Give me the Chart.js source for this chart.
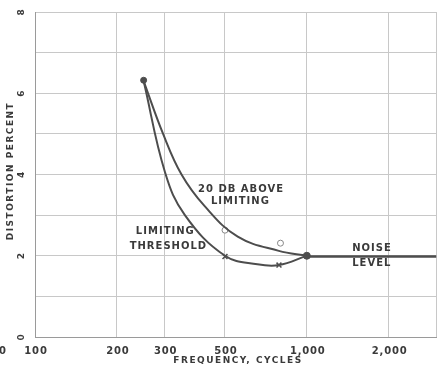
<!DOCTYPE html>
<html><head><meta charset="utf-8">
<script src="https://cdn.jsdelivr.net/npm/chart.js@4/dist/chart.umd.min.js"></script>
<style>html,body{margin:0;padding:0;background:#fff;}canvas{display:block;}</style>
</head><body>
<canvas id="c" width="442" height="368"></canvas>
<script>
// Tick labels
const xTickValues = [100, 200, 300, 500, 1000, 2000, 3000];
const xTickLabels = ['100', '200', '300', '500', '1,000', '2,000', ''];
const yTickValues = [0, 2, 4, 6, 8];

// Curve "LIMITING THRESHOLD" (frequency, distortion %)
const thresholdFreq = [251, 301, 356, 500, 658, 789, 1000];
const thresholdDist = [6.3, 4.05, 3.0, 2.0, 1.79, 1.77, 2.0];

// Curve "20 DB ABOVE LIMITING"
const aboveFreq = [251, 296, 346, 421, 557, 789, 1000];
const aboveDist = [6.3, 5.0, 4.0, 3.22, 2.47, 2.12, 2.0];

// Measured points
const startFreq = [251], startDist = [6.32];
const thresholdPtFreq = [500, 790], thresholdPtDist = [1.98, 1.77];
const abovePtFreq = [500, 800], abovePtDist = [2.63, 2.31];
const jointFreq = [1000], jointDist = [2.0];

// Noise level
const noiseFreq = [1000, 3000], noiseDist = [1.98, 1.98];

// Annotation texts: [text, frequency, distortion]
const annotations = [
  ['20 DB ABOVE', 398, 3.645],
  ['LIMITING', 444, 3.34],
  ['LIMITING', 235, 2.59],
  ['THRESHOLD', 223, 2.24],
  ['NOISE', 1469, 2.17],
  ['LEVEL', 1469, 1.80]
];

const zip = (xs, ys) => xs.map((x, i) => ({x, y: ys[i]}));
const INK = '#4d4d4d';
const FONT = '"DejaVu Sans", sans-serif';

const textPlugin = {
  id: 'texts',
  afterDraw(chart) {
    const ctx = chart.ctx, xs = chart.scales.x, ys = chart.scales.y;
    ctx.save();
    ctx.fillStyle = '#3a3a3a';
    ctx.font = 'bold 10px ' + FONT;
    ctx.textAlign = 'center'; ctx.textBaseline = 'middle';
    ctx.letterSpacing = '0.8px';
    // x tick labels
    xTickValues.forEach((v, i) => {
      if (xTickLabels[i]) ctx.fillText(xTickLabels[i], xs.getPixelForValue(v) + 1, 351);
    });
    ctx.fillText('0', 3, 351);
    // y tick labels rotated
    ctx.font = 'bold 9px ' + FONT;
    yTickValues.forEach(v => {
      ctx.save();
      ctx.translate(22, ys.getPixelForValue(v));
      ctx.rotate(-Math.PI / 2);
      ctx.fillText(String(v), 0, 0);
      ctx.restore();
    });
    // axis titles
    ctx.letterSpacing = '1.5px';
    ctx.fillText('FREQUENCY, CYCLES', 238, 361);
    ctx.save();
    ctx.translate(11, 171);
    ctx.rotate(-Math.PI / 2);
    ctx.fillText('DISTORTION PERCENT', 0, 0);
    ctx.restore();
    // annotations
    ctx.font = 'bold 10px ' + FONT;
    ctx.letterSpacing = '1px';
    ctx.textAlign = 'left';
    annotations.forEach(([t, f, d]) => ctx.fillText(t, xs.getPixelForValue(f), ys.getPixelForValue(d)));
    ctx.restore();
  }
};

new Chart(document.getElementById('c'), {
  type: 'scatter',
  data: {
    datasets: [
      { data: zip(noiseFreq, noiseDist), showLine: true, borderColor: INK, borderWidth: 2.5, pointRadius: 0 },
      { data: zip(thresholdFreq, thresholdDist), showLine: true, borderColor: INK, borderWidth: 2, pointRadius: 0, tension: 0.4 },
      { data: zip(aboveFreq, aboveDist), showLine: true, borderColor: INK, borderWidth: 2, pointRadius: 0, tension: 0.4 },
      { data: zip(startFreq, startDist), pointStyle: 'circle', pointRadius: 3, backgroundColor: INK, borderColor: INK },
      { data: zip(thresholdPtFreq, thresholdPtDist), pointStyle: 'crossRot', pointRadius: 3.5, borderColor: INK, borderWidth: 1.5 },
      { data: zip(abovePtFreq, abovePtDist), pointStyle: 'circle', pointRadius: 3, backgroundColor: '#fff', borderColor: '#888', borderWidth: 1 },
      { data: zip(jointFreq, jointDist), pointStyle: 'circle', pointRadius: 3.5, backgroundColor: INK, borderColor: INK }
    ]
  },
  options: {
    responsive: false,
    animation: false,
    devicePixelRatio: 1,
    layout: { padding: { left: 35, right: 1, top: 12, bottom: 31 } },
    plugins: { legend: { display: false }, tooltip: { enabled: false } },
    scales: {
      x: {
        type: 'logarithmic', min: 100, max: 3000,
        afterBuildTicks: s => { s.ticks = xTickValues.map(v => ({value: v})); },
        ticks: { display: false },
        grid: { color: '#c8c8c8', lineWidth: 1, drawTicks: false },
        border: { color: '#9a9a9a', width: 1 }
      },
      y: {
        type: 'linear', min: 0, max: 8,
        ticks: { display: false, stepSize: 1 },
        grid: { color: '#c8c8c8', lineWidth: 1, drawTicks: false },
        border: { color: '#9a9a9a', width: 1 }
      }
    }
  },
  plugins: [textPlugin]
});
</script>
</body></html>
